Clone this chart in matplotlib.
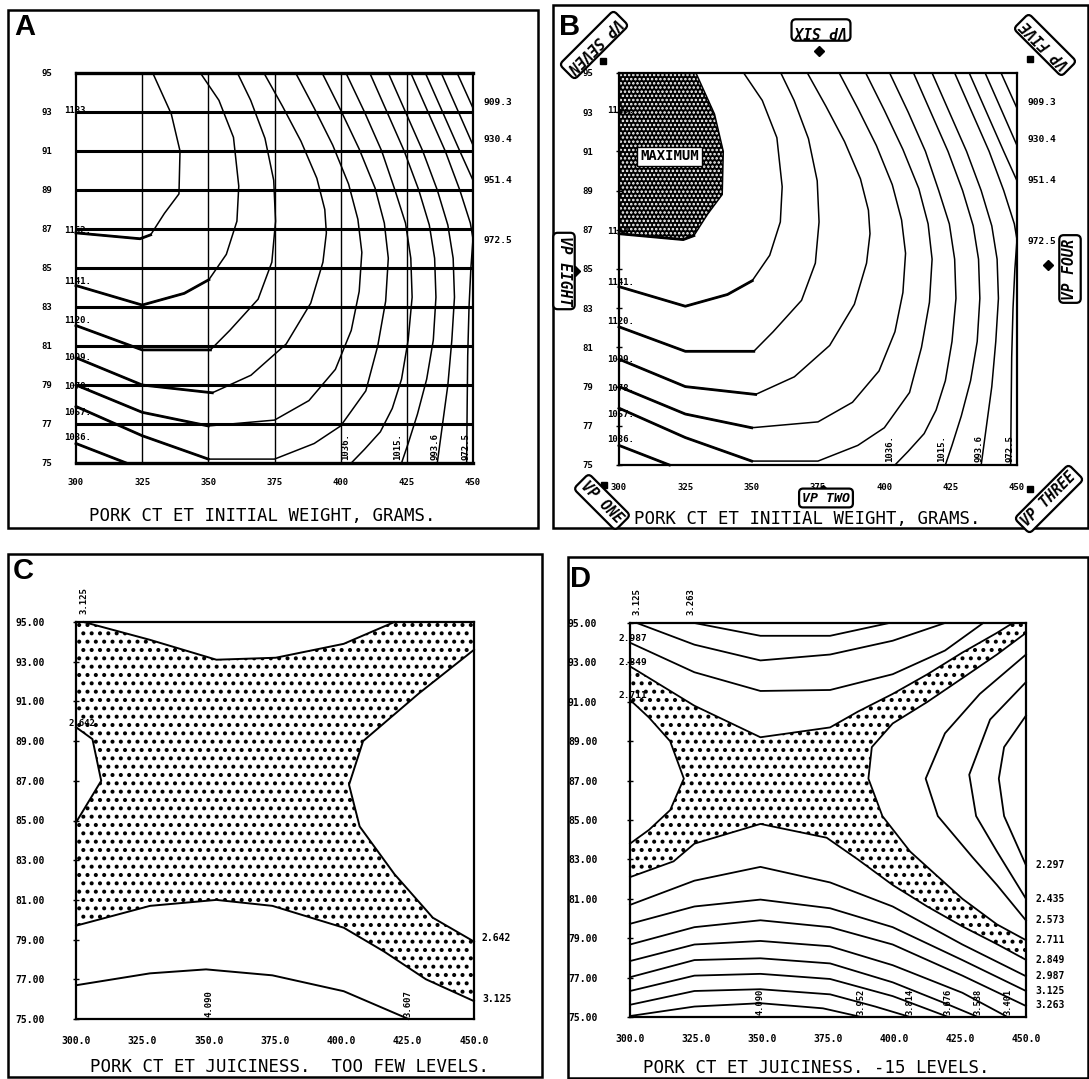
import numpy as np
import matplotlib.pyplot as plt
from matplotlib.patches import Polygon, Rectangle

W, H = 1089, 1079
MONO = 'DejaVu Sans Mono'

# ---------------- panels A and B : initial weight surface ----------------
x_ticks = [300, 325, 350, 375, 400, 425, 450]
y_ticks = [75, 77, 79, 81, 83, 85, 87, 89, 91, 93, 95]
ab_xlabels = ['300', '325', '350', '375', '400', '425', '450']
ab_ylabels = ['75', '77', '79', '81', '83', '85', '87', '89', '91', '93', '95']

w1162_x = [329, 336, 339.3, 338.9, 333.4, 328.2, 324.2, 300]
w1162_y = [95, 92.9, 91.0, 88.8, 87.8, 86.7, 86.5, 86.8]
w1141_x = [347, 354, 359.5, 361.5, 360.8, 356.8, 350.2, 340.9, 325, 300]
w1141_y = [95, 93.6, 91.7, 89.2, 87.4, 85.7, 84.4, 83.7, 83.1, 84.1]
w1120_x = [361, 366, 371.4, 374.7, 375.4, 374, 368.8, 358.1, 350.8, 325, 300]
w1120_y = [95, 93.6, 91.65, 89.5, 87.4, 85.3, 83.4, 81.8, 80.8, 80.8, 82.05]
w1099_x = [371, 378, 385, 391, 394, 394.6, 393.3, 388.7, 379.4, 366.1, 351.5, 325, 300]
w1099_y = [95, 93.3, 91.5, 89.6, 88, 86.8, 85.3, 83.2, 81.1, 79.5, 78.6, 79.0, 80.4]
w1078_x = [383, 390, 397, 403, 406.5, 408, 407, 404, 398, 388, 375, 350, 325, 300]
w1078_y = [95, 93.2, 91.3, 89.3, 87.5, 85.8, 83.8, 81.8, 79.8, 78.2, 77.2, 76.9, 77.6, 79.0]
w1057_x = [393, 400, 407, 413, 416.5, 418, 417, 414, 409.5, 400, 390, 375, 350, 325, 300]
w1057_y = [95, 93.1, 91.1, 89.1, 87.3, 85.5, 83.3, 81, 78.7, 76.9, 76, 75.2, 75.2, 76.4, 77.9]
w1036a_x = [300, 319]
w1036a_y = [76.0, 75]
w1036b_x = [402, 409, 415.5, 420.5, 424.5, 426.5, 427, 425.5, 423, 419.5, 415, 409, 404]
w1036b_y = [95, 93, 91, 89, 87.3, 85.5, 83.5, 81.3, 79.3, 77.8, 76.6, 75.7, 75]
w1015_x = [411, 417.5, 424, 429.5, 433.5, 435.5, 436, 435, 432.5, 429, 425.5, 423]
w1015_y = [95, 93, 91, 89, 87.2, 85.5, 83.5, 81.3, 79.3, 77.5, 76, 75]
w993_x = [418, 424.5, 431, 436.5, 440.5, 442.5, 443, 442, 440.5, 438.5, 436.5]
w993_y = [95, 93, 91, 89, 87.2, 85.5, 83.5, 81.3, 79, 77, 75]
w972_x = [426.5, 433, 439.5, 445, 449, 450, 449.2, 448.5, 448, 447.8, 447.6]
w972_y = [95, 93, 91, 89, 87.3, 86.5, 85, 83, 80.5, 78, 75]
w951_x = [432, 438.5, 445, 450]
w951_y = [95, 93, 91, 89.5]
w930_x = [438, 444.5, 450]
w930_y = [95, 93, 91.3]
w909_x = [444, 450]
w909_y = [95, 93.2]

ab_left_lbl = ['1183.', '1162.', '1141.', '1120.', '1099.', '1078.', '1057.', '1036.']
ab_left_y = [93.1, 86.9, 84.3, 82.3, 80.4, 78.9, 77.6, 76.3]
ab_right_lbl = ['909.3', '930.4', '951.4', '972.5']
ab_right_y = [93.5, 91.6, 89.5, 86.4]
ab_bot_lbl = ['1036.', '1015.', '993.6', '972.5']
ab_bot_x = [402, 421.5, 435.5, 447.5]

# vantage points of panel B
vp_names = ['VP SEVEN', 'VP SIX', 'VP FIVE', 'VP EIGHT', 'VP FOUR', 'VP ONE', 'VP TWO', 'VP THREE']
vp_px = [594, 821, 1045, 564, 1070, 602, 826, 1049]
vp_py = [45, 30, 45, 271, 269, 502, 498, 499]
vp_rot = [225, 180, 135, 270, 90, 315, 0, 45]
vp_fs = [10.5, 10.5, 10.5, 10.5, 10.5, 10.5, 9.5, 10.5]
vp_mx = [293.8, 375.4, 455, 283.4, 461.6, 294.4, 376.7, 455]
vp_my = [95.6, 96.1, 95.7, 84.9, 85.2, 74.0, 73.7, 73.8]
vp_mk = ['s', 'D', 's', 'D', 'D', 's', 'D', 's']

# ---------------- panels C and D : juiciness surface ----------------
cd_xlabels = ['300.0', '325.0', '350.0', '375.0', '400.0', '425.0', '450.0']
cd_ylabels = ['75.00', '77.00', '79.00', '81.00', '83.00', '85.00', '87.00',
              '89.00', '91.00', '93.00', '95.00']

# C : five levels
c3125u_x = [302.9, 327.9, 352.9, 375.3, 400.9, 420.0]
c3125u_y = [95, 94.1, 93.1, 93.2, 93.9, 95]
c2642r_x = [450, 429.2, 408.2, 402.9, 406.9, 420.0, 434.5, 450]
c2642r_y = [93.6, 91.4, 89.0, 86.8, 84.7, 82.3, 80.1, 78.9]
c3125l_x = [300, 327.9, 352.9, 374.0, 400.9, 416.1, 431.9, 450]
c3125l_y = [79.7, 80.7, 81.0, 80.7, 79.6, 78.4, 77.0, 75.9]
c2642l_x = [300, 306.2, 309.5, 300]
c2642l_y = [89.7, 89.1, 87.0, 84.9]
c3608_x = [300, 327.9, 349.0, 374.0, 400.9, 425.3]
c3608_y = [76.7, 77.3, 77.5, 77.2, 76.4, 75.0]

# D : fifteen levels
d3263t_x = [324.4, 349.4, 375.8, 398.2]
d3263t_y = [95.0, 94.35, 94.35, 95.0]
d3125t_x = [302.6, 324.4, 349.4, 375.8, 399.5, 419.3]
d3125t_y = [95.0, 93.9, 93.1, 93.4, 94.1, 95.0]
d2987t_x = [300, 324.4, 349.4, 375.8, 399.5, 419.3, 433.8]
d2987t_y = [94.0, 92.5, 91.55, 91.6, 92.4, 93.6, 95.0]
d2849t_x = [300, 324.4, 349.4, 375.8, 386.3, 399.5, 412.7, 425.9, 439.0, 445.0]
d2849t_y = [92.8, 90.8, 89.2, 89.7, 90.5, 91.4, 92.4, 93.5, 94.5, 95.0]
d2711r_x = [450, 439.0, 425.9, 412.7, 399.5, 391.6, 390.3, 395.6, 406.1, 425.9, 439.0, 450]
d2711r_y = [94.5, 93.4, 92.2, 91.0, 89.9, 88.7, 87.1, 85.2, 83.4, 81.0, 79.7, 78.9]
d2711l_x = [300, 307.2, 315.2, 320.4, 315.2, 307.2, 300]
d2711l_y = [91.1, 90.2, 89.0, 87.1, 85.5, 84.5, 83.8]
d2849b_x = [300, 316.5, 324.4, 349.4, 374.5, 386.3, 399.5, 412.7, 425.9, 439.0, 450]
d2849b_y = [82.1, 82.9, 83.8, 84.8, 84.1, 83.0, 81.7, 80.6, 79.6, 78.7, 77.9]
d2573_x = [450, 432.5, 419.3, 412.0, 416.6, 429.8, 439.0, 450]
d2573_y = [93.4, 91.4, 89.4, 87.1, 85.2, 83.1, 81.7, 79.9]
d2435_x = [450, 436.4, 428.5, 431.1, 439.0, 450]
d2435_y = [92.0, 90.1, 87.3, 85.2, 83.4, 81.0]
d2297_x = [450, 441.7, 439.7, 441.7, 450]
d2297_y = [90.3, 88.7, 87.1, 85.2, 82.7]
d_low_x = [300, 324.4, 349.4, 375.8, 399.5, 425.9, 450]
d2987b_y = [80.69, 81.92, 82.62, 81.83, 80.61, 78.68, 77.07]
d3125b_y = [79.73, 80.61, 80.96, 80.52, 79.56, 77.89, 76.32]
d3263b_y = [78.68, 79.56, 79.91, 79.56, 78.68, 77.10, 75.56]
d3401_x = [300, 324.4, 349.4, 375.8, 399.5, 425.9, 443.0]
d3401_y = [77.84, 78.68, 78.86, 78.59, 77.63, 76.23, 75.0]
d3539_x = [300, 324.4, 349.4, 375.8, 399.5, 419.3, 431.8]
d3539_y = [77.02, 77.89, 77.98, 77.72, 76.76, 75.7, 75.0]
d3677_x = [300, 324.4, 349.4, 375.8, 399.5, 420.6]
d3677_y = [76.32, 77.10, 77.19, 76.93, 76.06, 75.0]
d3815_x = [300, 324.4, 349.4, 375.8, 392.9, 406.1]
d3815_y = [75.62, 76.32, 76.41, 76.15, 75.53, 75.0]
d3953_x = [300, 324.4, 349.4, 373.1, 387.6]
d3953_y = [75.05, 75.53, 75.70, 75.44, 75.0]

c_right_lbl = ['2.642', '3.125']
c_right_y = [79.1, 76.0]
c_bot_lbl = ['4.090', '3.607']
c_bot_x = [350, 425]
d_right_lbl = ['2.297', '2.435', '2.573', '2.711', '2.849', '2.987', '3.125', '3.263']
d_right_y = [82.7, 81.0, 79.9, 78.9, 77.9, 77.1, 76.3, 75.6]
d_left_lbl = ['2.987', '2.849', '2.711']
d_left_y = [94.2, 93.0, 91.3]
d_top_lbl = ['3.125', '3.263']
d_top_x = [302.6, 323.1]
d_bot_lbl = ['4.090', '3.952', '3.814', '3.676', '3.538', '3.401']
d_bot_x = [349.4, 387.6, 406.1, 420.6, 431.8, 443.0]

fig = plt.figure(figsize=(W / 100, H / 100), dpi=100)


def px_axes(l, t, r, b):
    return fig.add_axes([l / W, 1 - b / H, (r - l) / W, (b - t) / H])


def frame(l, t, r, b, lw=1.8):
    fig.add_artist(Rectangle((l / W, 1 - b / H), (r - l) / W, (b - t) / H,
                             transform=fig.transFigure, fill=False, lw=lw, ec='k'))


def ftext(x, y, s, **kw):
    fig.text(x / W, 1 - y / H, s, **kw)


def setup(ax, xl, yl, fs, xpad, ypad):
    ax.set_xlim(300, 450)
    ax.set_ylim(75, 95)
    ax.set_xticks(x_ticks)
    ax.set_yticks(y_ticks)
    ax.set_xticklabels(xl, fontsize=fs, fontweight='bold', family=MONO)
    ax.set_yticklabels(yl, fontsize=fs, fontweight='bold', family=MONO)
    ax.tick_params(axis='x', length=0, pad=xpad)
    ax.tick_params(axis='y', length=0, pad=ypad)
    for s in ax.spines.values():
        s.set_linewidth(1.6)


weight_lines = [(w1162_x, w1162_y), (w1141_x, w1141_y), (w1120_x, w1120_y),
                (w1099_x, w1099_y), (w1078_x, w1078_y), (w1057_x, w1057_y),
                (w1036a_x, w1036a_y), (w1036b_x, w1036b_y), (w1015_x, w1015_y),
                (w993_x, w993_y), (w972_x, w972_y), (w951_x, w951_y),
                (w930_x, w930_y), (w909_x, w909_y)]


def weight_panel(ax):
    for xs, ys in weight_lines:
        ax.plot(xs, ys, color='k', lw=1.1, clip_on=False)
        # the plotter inked the lower-left arms heavier
        low = [(x, y) for x, y in zip(xs, ys) if x <= 352 and y <= 87]
        if len(low) > 1:
            ax.plot([p[0] for p in low], [p[1] for p in low], color='k', lw=2.0,
                    clip_on=False)
    for s, y in zip(ab_left_lbl, ab_left_y):
        ax.text(295.5, y, s, fontsize=6.5, fontweight='bold', family=MONO,
                ha='left', va='center', clip_on=False)
    for s, y in zip(ab_right_lbl, ab_right_y):
        ax.text(454, y, s, fontsize=6.8, fontweight='bold', family=MONO,
                ha='left', va='center', clip_on=False)
    for s, x in zip(ab_bot_lbl, ab_bot_x):
        ax.text(x, 75.15, s, fontsize=6.5, fontweight='bold', family=MONO,
                rotation=90, ha='center', va='bottom', clip_on=False)


# ---------- A ----------
frame(8, 10, 538, 528)
axA = px_axes(76, 73, 473, 463)
setup(axA, ab_xlabels, ab_ylabels, 6.5, 11, 17)
for y in y_ticks[1:-1]:
    axA.axhline(y, color='k', lw=2.2)
for x in x_ticks[1:-1]:
    axA.axvline(x, color='k', lw=1.0)
axA.spines['top'].set_linewidth(2.4)
axA.spines['bottom'].set_linewidth(2.4)
weight_panel(axA)
ftext(25, 27, 'A', fontsize=21, fontweight='bold', family='Liberation Sans',
      ha='center', va='center')
ftext(262, 516, 'PORK CT ET INITIAL WEIGHT, GRAMS.', fontsize=12.5, family=MONO,
      ha='center', va='center')

# ---------- B ----------
frame(553, 5, 1088, 528)
axB = px_axes(619, 73, 1017, 465)
setup(axB, ab_xlabels, ab_ylabels, 6.5, 13, 16)
axB.tick_params(axis='y', length=5, width=1.0, direction='inout')
plt.rcParams['hatch.linewidth'] = 1.2
top_region = Polygon(np.column_stack([w1162_x + [300], w1162_y + [95]]), closed=True,
                     fc='black', ec='white', lw=0, hatch='....', zorder=1)
axB.add_patch(top_region)
weight_panel(axB)
axB.text(319, 90.75, 'MAXIMUM', fontsize=10, fontweight='bold', family=MONO,
         ha='center', va='center',
         bbox=dict(boxstyle='square,pad=0.2', fc='white', ec='black', lw=1.0), zorder=5)
for mk in ['s', 'D']:
    mx = [x for x, m in zip(vp_mx, vp_mk) if m == mk]
    my = [y for y, m in zip(vp_my, vp_mk) if m == mk]
    axB.plot(mx, my, mk, color='k', ms=4 if mk == 's' else 5, clip_on=False)
for name, x, y, r, fs in zip(vp_names, vp_px, vp_py, vp_rot, vp_fs):
    ftext(x, y, name, fontsize=fs, fontweight='bold', style='italic', family=MONO,
          rotation=r, rotation_mode='anchor', ha='center', va='center',
          bbox=dict(boxstyle='round,pad=0.22,rounding_size=0.3', fc='white', ec='k', lw=1.6))
ftext(570, 27, 'B', fontsize=21, fontweight='bold', family='Liberation Sans',
      ha='center', va='center')
ftext(807, 519, 'PORK CT ET INITIAL WEIGHT, GRAMS.', fontsize=12.5, family=MONO,
      ha='center', va='center')

# ---------- C ----------
frame(8, 554, 542, 1077)
axC = px_axes(76, 622, 474, 1019)
setup(axC, cd_xlabels, cd_ylabels, 7, 12, 20)
axC.tick_params(axis='y', length=5, width=1.0, direction='inout')
plt.rcParams['hatch.linewidth'] = 1.7
poly_cx = ([300] + c3125u_x + [450] + c2642r_x + c3125l_x[::-1] + c2642l_x[::-1])
poly_cy = ([95] + c3125u_y + [95] + c2642r_y + c3125l_y[::-1] + c2642l_y[::-1])
axC.add_patch(Polygon(np.column_stack([poly_cx, poly_cy]), closed=True, fc='white',
                      ec='black', lw=0, hatch='..', zorder=1))
for xs, ys in [(c3125u_x, c3125u_y), (c2642r_x, c2642r_y), (c3125l_x, c3125l_y),
               (c2642l_x, c2642l_y), (c3608_x, c3608_y)]:
    axC.plot(xs, ys, color='k', lw=1.4, clip_on=False)
axC.text(303, 95.4, '3.125', fontsize=6.5, fontweight='bold', family=MONO, rotation=90,
         ha='center', va='bottom', clip_on=False)
axC.text(297, 89.9, '2.642', fontsize=6.5, fontweight='bold', family=MONO,
         ha='left', va='center', clip_on=False)
for s, y in zip(c_right_lbl, c_right_y):
    axC.text(453, y, s, fontsize=7, fontweight='bold', family=MONO,
             ha='left', va='center', clip_on=False)
for s, x in zip(c_bot_lbl, c_bot_x):
    axC.text(x, 75.1, s, fontsize=6.5, fontweight='bold', family=MONO, rotation=90,
             ha='center', va='bottom', clip_on=False)
ftext(23, 571, 'C', fontsize=21, fontweight='bold', family='Liberation Sans',
      ha='center', va='center')
ftext(289, 1067, 'PORK CT ET JUICINESS.  TOO FEW LEVELS.', fontsize=12.5, family=MONO,
      ha='center', va='center')

# ---------- D ----------
frame(568, 557, 1088, 1078)
axD = px_axes(630, 623, 1026, 1017)
setup(axD, cd_xlabels, cd_ylabels, 7, 12, 21)
axD.tick_params(axis='y', length=5, width=1.0, direction='inout')
poly_dx = (d2849t_x + [450] + d2711r_x + d2849b_x[::-1] + d2711l_x[::-1])
poly_dy = (d2849t_y + [95] + d2711r_y + d2849b_y[::-1] + d2711l_y[::-1])
axD.add_patch(Polygon(np.column_stack([poly_dx, poly_dy]), closed=True, fc='white',
                      ec='black', lw=0, hatch='..', zorder=1))
d_lines = [(d3263t_x, d3263t_y), (d3125t_x, d3125t_y), (d2987t_x, d2987t_y),
           (d2849t_x, d2849t_y), (d2711r_x, d2711r_y), (d2711l_x, d2711l_y),
           (d2849b_x, d2849b_y), (d2573_x, d2573_y), (d2435_x, d2435_y),
           (d2297_x, d2297_y), (d_low_x, d2987b_y), (d_low_x, d3125b_y),
           (d_low_x, d3263b_y), (d3401_x, d3401_y), (d3539_x, d3539_y),
           (d3677_x, d3677_y), (d3815_x, d3815_y), (d3953_x, d3953_y)]
for xs, ys in d_lines:
    axD.plot(xs, ys, color='k', lw=1.3, clip_on=False)
for s, x in zip(d_top_lbl, d_top_x):
    axD.text(x, 95.4, s, fontsize=6.5, fontweight='bold', family=MONO, rotation=90,
             ha='center', va='bottom', clip_on=False)
for s, y in zip(d_left_lbl, d_left_y):
    axD.text(295.5, y, s, fontsize=6.8, fontweight='bold', family=MONO,
             ha='left', va='center', clip_on=False)
for s, y in zip(d_right_lbl, d_right_y):
    axD.text(453.5, y, s, fontsize=7, fontweight='bold', family=MONO,
             ha='left', va='center', clip_on=False)
for s, x in zip(d_bot_lbl, d_bot_x):
    axD.text(x, 75.1, s, fontsize=6.3, fontweight='bold', family=MONO, rotation=90,
             ha='center', va='bottom', clip_on=False)
ftext(580, 579, 'D', fontsize=21, fontweight='bold', family='Liberation Sans',
      ha='center', va='center')
ftext(816, 1068, 'PORK CT ET JUICINESS. -15 LEVELS.', fontsize=12.5, family=MONO,
      ha='center', va='center')

fig.savefig('out.png', dpi=100)
